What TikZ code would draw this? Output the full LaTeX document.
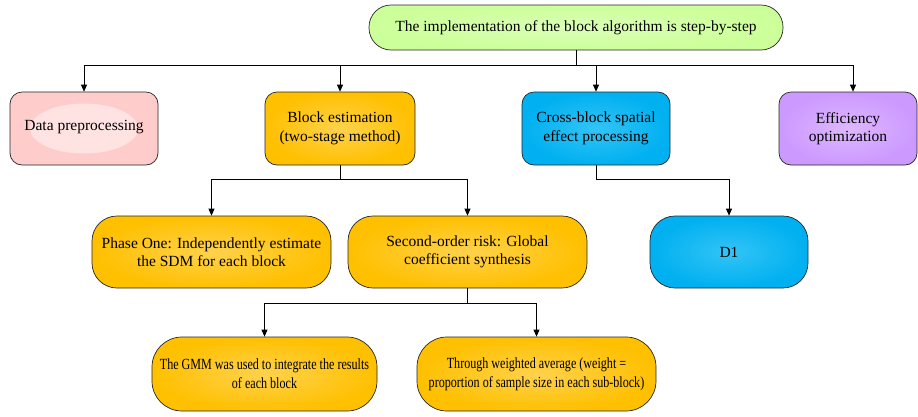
\documentclass[tikz,border=0pt]{standalone}
\usepackage{fontspec}
\setmainfont{Liberation Serif}
\newfontfamily\narrowserif[FakeStretch=0.78]{Liberation Serif}
\usetikzlibrary{arrows.meta,positioning}

\definecolor{topgreen}{HTML}{CCFF99}
\definecolor{pinkbox}{HTML}{FFCCCC}
\definecolor{pinkglow}{HTML}{FFE2E2}
\definecolor{orangebox}{HTML}{FFC000}
\definecolor{orangeglow}{HTML}{FFD24D}
\definecolor{bluebox}{HTML}{00B0F0}
\definecolor{blueglow}{HTML}{33C4F6}
\definecolor{purplebox}{HTML}{CC99FF}
\definecolor{purpleglow}{HTML}{DDB8FF}

\tikzset{
  x=1pt, y=-1pt,
  box/.style={draw=black!85, line width=0.7pt, align=center, font=\fontsize{15.5}{18.5}\selectfont,
    inner sep=2pt},
  lvlone/.style={box, rounded corners=12pt, minimum width=148pt, minimum height=73pt},
  lvltwo/.style={box, rounded corners=25pt, minimum height=72pt},
  lvlthree/.style={box, rounded corners=30pt, minimum height=74pt,
    font=\narrowserif\fontsize{15.5}{19}\selectfont},
  orangefill/.style={inner color=orangeglow, outer color=orangebox},
  arr/.style={draw=black, line width=0.7pt, -{Triangle[width=6pt,length=7pt]}},
  link/.style={draw=black, line width=0.7pt},
}

\begin{document}
\begin{tikzpicture}
\useasboundingbox (0,0) rectangle (918,416);

% root
\node[box, rounded corners=22pt, minimum width=414pt, minimum height=45pt,
      inner color=topgreen!70!white, outer color=topgreen] (root) at (576,27.5)
  {The implementation of the block algorithm is step-by-step};

% first level
\node[lvlone, fill=pinkbox] (prep) at (84,128.5) {};
\fill[pinkglow] (prep.center) ellipse (54pt and 25pt);
\node[box, draw=none] (preptext) at ([yshift=1.5pt]prep.center) {Data preprocessing};
\node[lvlone, minimum width=150pt, orangefill] (est) at (340,128.5) {Block estimation\\(two-stage method)};
\node[lvlone, inner color=blueglow, outer color=bluebox] (cross) at (596,128.5) {Cross-block spatial\\effect processing};
\node[lvlone, minimum width=138pt, inner color=purpleglow, outer color=purplebox] (eff) at (848,128.5) {Efficiency\\optimization};

% second level
\node[lvltwo, minimum width=239pt, orangefill] (phase) at (211.5,252) {Phase One: Independently estimate\\the SDM for each block};
\node[lvltwo, minimum width=239pt, orangefill] (second) at (467.5,252) {Second-order risk: Global\\coefficient synthesis};
\node[lvltwo, minimum width=158pt, inner color=blueglow, outer color=bluebox] (d1) at (729,252) {D1};

% third level
\node[lvlthree, minimum width=225pt, orangefill] (gmm) at (264.5,374) {The GMM was used to integrate the results\\of each block};
\node[lvlthree, minimum width=239pt, orangefill] (wavg) at (536.5,374) {Through weighted average (weight =\\proportion of sample size in each sub-block)};

% connectors: root to first level
\coordinate (busA) at (576,65);
\draw[link] (root.south) -- (busA);
\draw[arr] (busA) -| (prep.north);
\draw[arr] (busA) -| (est.north);
\draw[arr] (busA) -| (cross.north);
\draw[arr] (busA) -| ([xshift=5pt]eff.north);

% block estimation to its two stages
\coordinate (busB) at (340,179);
\draw[link] (est.south) -- (busB);
\draw[arr] (busB) -| (phase.north);
\draw[arr] (busB) -| (second.north);

% cross-block processing to D1
\coordinate (busC) at (596,179);
\draw[link] (cross.south) -- (busC);
\draw[arr] (busC) -| (d1.north);

% global synthesis to its two routes
\coordinate (busD) at (467.5,303);
\draw[link] (second.south) -- (busD);
\draw[arr] (busD) -| (gmm.north);
\draw[arr] (busD) -| (wavg.north);
\end{tikzpicture}
\end{document}
